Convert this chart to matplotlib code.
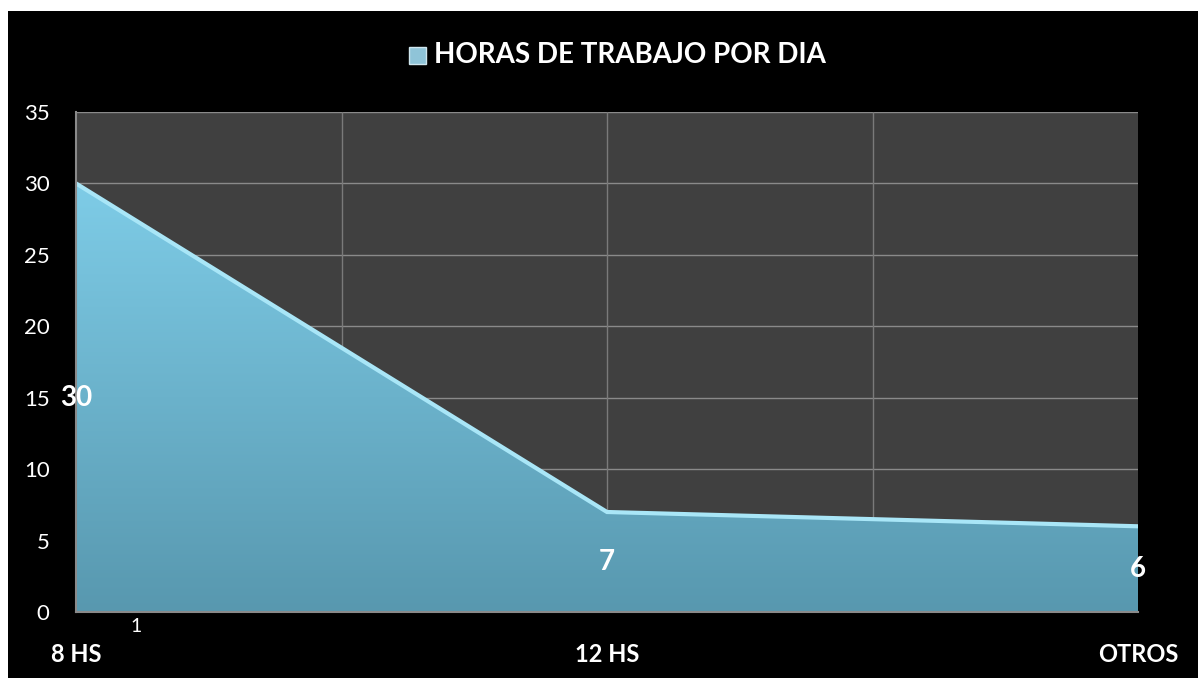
import numpy as np
import matplotlib.pyplot as plt
from matplotlib.patches import Polygon, Rectangle

categories = ["8 HS", "12 HS", "OTROS"]
values = [30, 7, 6]
title = "HORAS DE TRABAJO POR DIA"

FONT = ["Lato", "DejaVu Sans"]

fig = plt.figure(figsize=(11.98, 6.78), dpi=100)
fig.patch.set_facecolor("black")
# thin white margin along the top and left edge
fig.patches.append(Rectangle((0, 667 / 678), 1, 11 / 678, transform=fig.transFigure,
                             facecolor="white", edgecolor="none"))
fig.patches.append(Rectangle((0, 0), 8 / 1198, 1, transform=fig.transFigure,
                             facecolor="white", edgecolor="none"))

ax = fig.add_axes([76 / 1198, 66 / 678, 1062 / 1198, 500 / 678])
ax.set_facecolor("#404040")
x = np.arange(len(values))
ax.set_xlim(0, 2)
ax.set_ylim(0, 35)

# grid
ax.set_yticks(range(0, 36, 5))
for yv in range(5, 36, 5):
    ax.axhline(yv, color="#8a8a8a", lw=1, zorder=1)
for xv in [0.5, 1, 1.5]:
    ax.axvline(xv, color="#7a7a7a", lw=1, zorder=1)

# gradient filled area
verts = [(x[0], 0)] + list(zip(x, values)) + [(x[-1], 0)]
poly = Polygon(verts, closed=True, facecolor="none", edgecolor="none")
ax.add_patch(poly)
grad = np.linspace(0, 1, 256).reshape(-1, 1)
top = np.array([126, 204, 231]) / 255
bot = np.array([88, 152, 175]) / 255
cols = (top[None, :] * (1 - grad) + bot[None, :] * grad).reshape(256, 1, 3)
im = ax.imshow(cols, extent=[0, 2, 0, max(values)], aspect="auto", zorder=2,
               origin="upper")
im.set_clip_path(poly)
ax.plot(x, values, color="#a9e6f7", lw=3, zorder=3, solid_joinstyle="miter")

for sp in ["top", "right"]:
    ax.spines[sp].set_visible(False)
for sp in ["left", "bottom"]:
    ax.spines[sp].set_color("#8a8a8a")
    ax.spines[sp].set_linewidth(1.5)
    ax.spines[sp].set_zorder(4)

ax.tick_params(axis="y", length=0, pad=19, labelcolor="white", labelsize=16)
for lab in ax.get_yticklabels():
    lab.set_fontfamily(FONT)
ax.set_xticks(x)
ax.set_xticklabels(categories, fontfamily=FONT, fontweight="bold", fontsize=17, color="white")
ax.tick_params(axis="x", length=0, pad=22)

# data labels
for xi, v in zip(x, values):
    ax.text(xi, v / 2, str(v), ha="center", va="center", color="white",
            fontsize=20, fontweight="bold", fontfamily=FONT, zorder=5)

ax.text(0.113, -1.05, "1", ha="center", va="center", color="white",
        fontsize=14, fontfamily=FONT, clip_on=False)

# title with legend marker
fig.text(434 / 1198, 1 - 55 / 678, title, ha="left", va="center", color="white",
         fontsize=20, fontweight="bold", fontfamily=FONT)
fig.patches.append(Rectangle((409 / 1198, 1 - 64 / 678), 17 / 1198, 17 / 678,
                             transform=fig.transFigure, facecolor="#8fc4d8",
                             edgecolor="#cfe6ee", lw=1, zorder=3))

fig.savefig("out.png", dpi=100, facecolor=fig.get_facecolor())
